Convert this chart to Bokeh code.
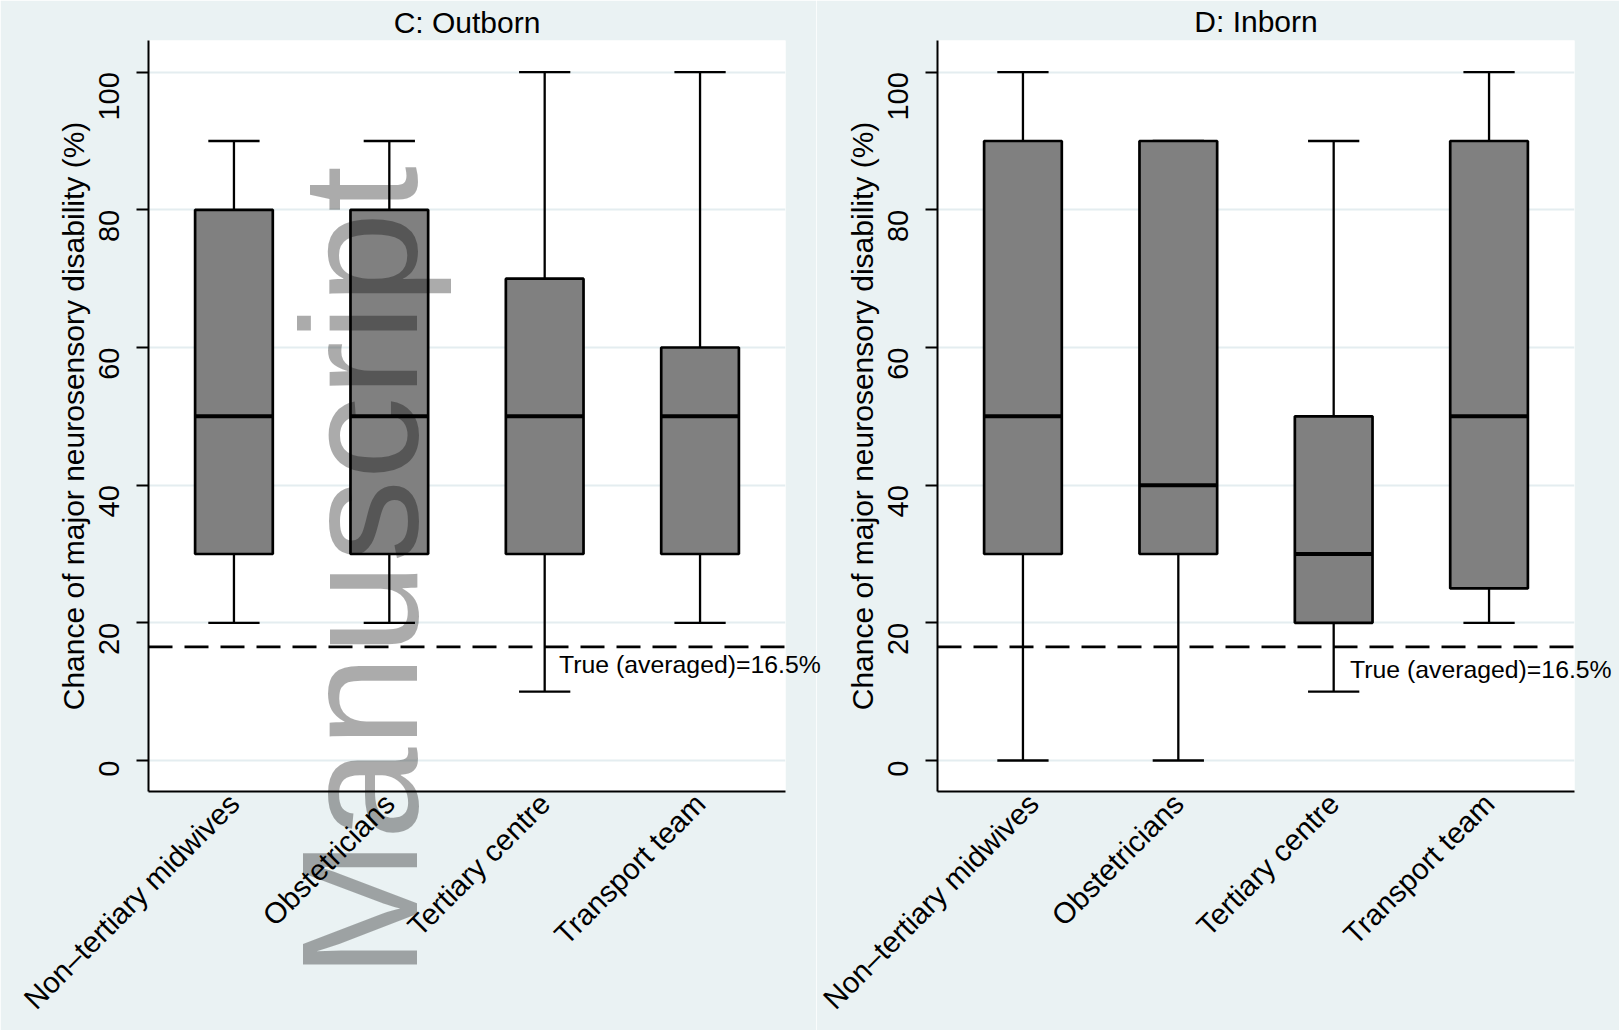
import math
from bokeh.plotting import figure
from bokeh.layouts import row
from bokeh.models import Label, Span, FixedTicker
from bokeh.embed import file_html
from bokeh.resources import INLINE

# ---------------- data ----------------
categories = ["Non\u2013tertiary midwives", "Obstetricians", "Tertiary centre", "Transport team"]

outborn_min = [20, 20, 10, 20]
outborn_q1 = [30, 30, 30, 30]
outborn_median = [50, 50, 50, 50]
outborn_q3 = [80, 80, 70, 60]
outborn_max = [90, 90, 100, 100]

inborn_min = [0, 0, 10, 20]
inborn_q1 = [30, 30, 20, 25]
inborn_median = [50, 40, 30, 50]
inborn_q3 = [90, 90, 50, 90]
inborn_max = [100, 90, 90, 100]

true_averaged = 16.5
reference_text = "True (averaged)=16.5%"
y_ticks = [0, 20, 40, 60, 80, 100]
panel_titles = ["C: Outborn", "D: Inborn"]
y_label = "Chance of major neurosensory disability (%)"
watermark_text = "Manuscript"

# ---------------- style ----------------
FONT = "Liberation Sans"
BG = "#eaf2f3"
GRID = "#e4edf0"
BOX_FILL = "#808080"
BOX_W = 0.5
CAP_W = 0.33
W, H = 1619, 1030


def make_panel(title, mins, q1, med, q3, maxs, width, b_left, b_right, title_standoff):
    xs = list(range(1, len(categories) + 1))
    p = figure(width=width, height=H, x_range=(0.45, 4.55), y_range=(-4.5, 104.6),
               output_backend="svg", toolbar_location=None,
               min_border_left=b_left, min_border_right=b_right,
               min_border_top=39, min_border_bottom=238)
    p.border_fill_color = BG
    p.background_fill_color = "white"
    p.outline_line_color = None

    p.title.text = title
    p.title.align = "center"
    p.title.text_font = FONT
    p.title.text_font_size = "30px"
    p.title.text_font_style = "normal"
    p.title.text_color = "black"
    p.title.standoff = title_standoff

    # grid
    p.xgrid.visible = False
    p.ygrid.ticker = FixedTicker(ticks=y_ticks)
    p.ygrid.grid_line_color = GRID
    p.ygrid.grid_line_width = 2

    # whiskers
    p.segment(x0=xs, y0=mins, x1=xs, y1=q1, line_color="black", line_width=2.3)
    p.segment(x0=xs, y0=q3, x1=xs, y1=maxs, line_color="black", line_width=2.3)
    lo = [x - CAP_W / 2 for x in xs]
    hi = [x + CAP_W / 2 for x in xs]
    p.segment(x0=lo, y0=mins, x1=hi, y1=mins, line_color="black", line_width=2.3)
    p.segment(x0=lo, y0=maxs, x1=hi, y1=maxs, line_color="black", line_width=2.3)

    # boxes
    p.vbar(x=xs, width=BOX_W, bottom=q1, top=q3, fill_color=BOX_FILL,
           line_color="black", line_width=2.7)
    mlo = [x - BOX_W / 2 for x in xs]
    mhi = [x + BOX_W / 2 for x in xs]
    p.segment(x0=mlo, y0=med, x1=mhi, y1=med, line_color="black", line_width=4)

    # reference line
    p.add_layout(Span(location=true_averaged, dimension="width", line_color="black",
                      line_width=2.7, line_dash="24 12"))

    # axes
    xa = p.xaxis[0]
    xa.ticker = FixedTicker(ticks=xs)
    xa.major_label_overrides = {x: c for x, c in zip(xs, categories)}
    xa.major_label_orientation = math.pi / 4
    xa.major_tick_line_color = None
    xa.minor_tick_line_color = None
    xa.major_label_text_font = FONT
    xa.major_label_text_font_size = "29.5px"
    xa.major_label_text_color = "black"
    xa.major_label_standoff = 1
    xa.axis_line_width = 2
    xa.axis_line_color = "black"

    ya = p.yaxis[0]
    ya.ticker = FixedTicker(ticks=y_ticks)
    ya.major_label_orientation = math.pi / 2
    ya.major_tick_out = 12
    ya.major_tick_in = 0
    ya.major_tick_line_width = 2
    ya.minor_tick_line_color = None
    ya.major_label_standoff = 27
    ya.major_label_text_font = FONT
    ya.major_label_text_font_size = "29px"
    ya.major_label_text_color = "black"
    ya.axis_label = y_label
    ya.axis_label_text_font = FONT
    ya.axis_label_text_font_size = "30px"
    ya.axis_label_text_font_style = "normal"
    ya.axis_label_text_color = "black"
    ya.axis_label_standoff = -3
    ya.axis_line_width = 2
    ya.axis_line_color = "black"
    return p


p1 = make_panel(panel_titles[0], outborn_min, outborn_q1, outborn_median, outborn_q3,
                outborn_max, 816, 148, 31, 3)
p2 = make_panel(panel_titles[1], inborn_min, inborn_q1, inborn_median, inborn_q3,
                inborn_max, 803, 121, 45, 5)

# transparent overlay for texts that run outside the plot frames (page pixels)
ov = figure(width=W, height=H, x_range=(0, W), y_range=(0, H), title=None,
            output_backend="svg", toolbar_location=None, min_border=0,
            x_axis_type=None, y_axis_type=None,
            styles={"position": "absolute", "left": "0px", "top": "0px",
                    "z-index": "10", "pointer-events": "none"})
try:
    ov.frame_align = False
except Exception:
    pass
ov.xgrid.visible = False
ov.ygrid.visible = False
ov.background_fill_alpha = 0
ov.border_fill_alpha = 0
ov.outline_line_color = None

ov.add_layout(Label(x=558.6, y=H - 664, text=reference_text, text_font=FONT,
                    text_font_size="24.8px", text_color="black",
                    text_align="left", text_baseline="middle"))
ov.add_layout(Label(x=1349.5, y=H - 669, text=reference_text, text_font=FONT,
                    text_font_size="24.8px", text_color="black",
                    text_align="left", text_baseline="middle"))
ov.add_layout(Label(x=359, y=H - 977.5, angle=math.pi / 2, text=watermark_text,
                    text_font=FONT, text_font_size="166px", text_color="black",
                    text_alpha=0.33, text_align="left", text_baseline="middle"))

layout = row(p1, p2, ov)
open("out.html", "w").write(file_html(layout, INLINE))
